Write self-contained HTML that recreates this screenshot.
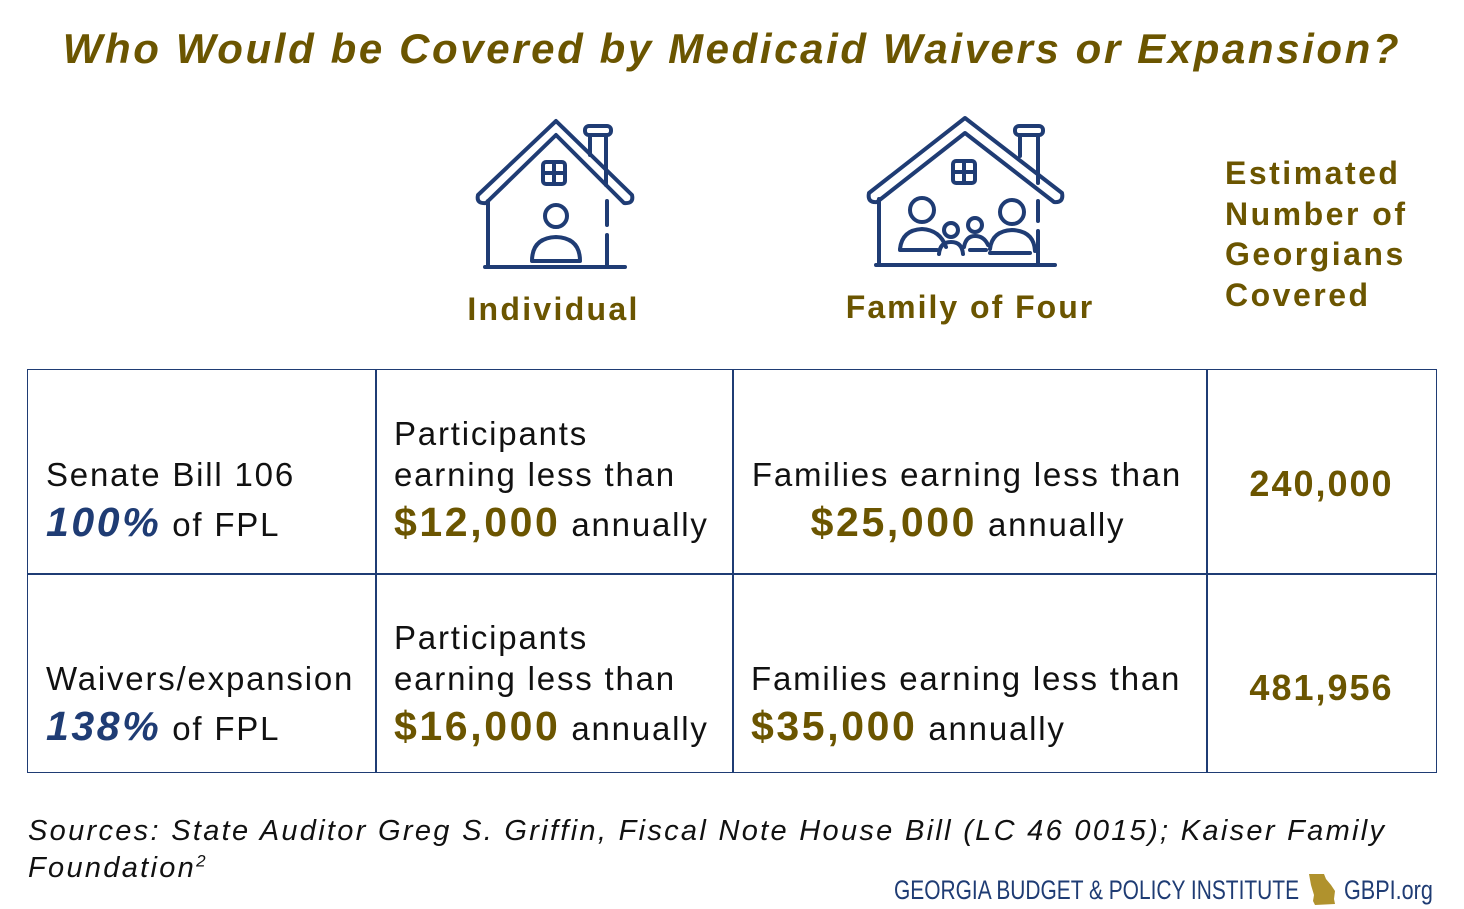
<!DOCTYPE html>
<html><head><meta charset="utf-8"><style>
body{margin:0;width:1464px;height:909px;background:#fff;position:relative;overflow:hidden;font-family:"Liberation Sans",sans-serif;}
.t{position:absolute;line-height:1;white-space:nowrap;}
.g{color:#6b5500;font-weight:bold;}
.b{color:#1f3c74;font-weight:bold;font-style:italic;}
.k{color:#111;font-size:33px;letter-spacing:1.8px;}
.big{font-size:41px;letter-spacing:2.6px;}
.ln{position:absolute;background:#1f3c74;}
</style></head><body>
<div class="t g" style="left:0;width:1464px;text-align:center;top:28px;font-size:42px;font-style:italic;letter-spacing:2.6px;">Who Would be Covered by Medicaid Waivers or Expansion?</div>

<svg style="position:absolute;left:470px;top:115px" width="170" height="160" viewBox="0 0 170 160" fill="none" stroke="#1f3c74" stroke-width="4" stroke-linecap="round" stroke-linejoin="round">
<path d="M86 6 L8 80 Q6 89 16 88 L86 20 L154 88 Q164 89 162 80 Z"/>
<path d="M120 40 L120 20 L136 20 L136 70"/><rect x="115" y="11" width="26" height="9" rx="4"/>
<path d="M18 86 L18 151 M137 86 L137 110 M137 120 L137 151 M15 152 L155 152"/>
<rect x="73" y="47" width="22" height="22" rx="3"/><path d="M84 47V69M73 58H95"/>
<circle cx="86" cy="101" r="11"/><path d="M62 146 Q62 123 86 122 Q110 123 110 146 Z"/>
</svg>
<svg style="position:absolute;left:862px;top:113px" width="210" height="160" viewBox="0 0 210 160" fill="none" stroke="#1f3c74" stroke-width="4" stroke-linecap="round" stroke-linejoin="round">
<path d="M103 5 L7 80 Q5 90 15 89 L103 20 L192 89 Q202 90 200 80 Z"/>
<path d="M158 43 L158 22 L176 22 L176 70"/><rect x="153" y="13" width="28" height="9" rx="4"/>
<path d="M17 86 L17 151 M176 88 L176 108 M176 118 L176 151 M14 152 L193 152"/>
<rect x="91" y="48" width="22" height="22" rx="3"/><path d="M102 48V70M91 59H113"/>
<circle cx="60" cy="97" r="12"/><path d="M38 136 Q40 117 60 116 Q78 117 84 134"/>
<circle cx="150" cy="99" r="12"/><path d="M128 136 Q130 118 150 117 Q172 118 173 138"/>
<circle cx="89" cy="117" r="7"/><path d="M77 141 Q78 129 89 129 Q100 129 101 141"/>
<circle cx="113" cy="112" r="7"/><path d="M102 134 Q104 123 113 123 Q122 123 126 132"/>
<path d="M38 137 H75 M108 137 H124 M128 140 H168"/>
</svg>

<div class="t g" style="left:375px;width:357px;text-align:center;top:293px;font-size:32px;letter-spacing:2.3px;">Individual</div>
<div class="t g" style="left:733px;width:474px;text-align:center;top:291px;font-size:32px;letter-spacing:2px;">Family of Four</div>
<div class="t g" style="left:1225px;top:153px;font-size:32px;line-height:40.6px;white-space:normal;width:230px;letter-spacing:2.5px;">Estimated Number of Georgians Covered</div>

<div style="position:absolute;left:27px;top:369px;width:1408px;height:402px;border:1.5px solid #1f3c74;"></div>
<div class="ln" style="left:375px;top:370px;width:1.5px;height:402px"></div>
<div class="ln" style="left:732px;top:370px;width:1.5px;height:402px"></div>
<div class="ln" style="left:1206px;top:370px;width:1.5px;height:402px"></div>
<div class="ln" style="left:27px;top:573px;width:1409px;height:1.5px"></div>

<div class="t k" style="left:46px;top:458px;">Senate Bill 106</div>
<div class="t k" style="left:46px;top:502px;"><span class="b big">100%</span> of FPL</div>
<div class="t k" style="left:394px;top:417px;">Participants</div>
<div class="t k" style="left:394px;top:458px;">earning less than</div>
<div class="t k" style="left:394px;top:502px;"><span class="g big">$12,000</span> annually</div>
<div class="t k" style="left:730px;width:474px;text-align:center;top:458px;">Families earning less than</div>
<div class="t k" style="left:731px;width:474px;text-align:center;top:502px;"><span class="g big">$25,000</span> annually</div>
<div class="t g" style="left:1207px;width:229px;text-align:center;top:466px;font-size:36px;letter-spacing:2px;">240,000</div>

<div class="t k" style="left:46px;top:662px;">Waivers/expansion</div>
<div class="t k" style="left:46px;top:706px;"><span class="b big">138%</span> of FPL</div>
<div class="t k" style="left:394px;top:621px;">Participants</div>
<div class="t k" style="left:394px;top:662px;">earning less than</div>
<div class="t k" style="left:394px;top:706px;"><span class="g big">$16,000</span> annually</div>
<div class="t k" style="left:751px;top:662px;">Families earning less than</div>
<div class="t k" style="left:751px;top:706px;"><span class="g big">$35,000</span> annually</div>
<div class="t g" style="left:1207px;width:229px;text-align:center;top:670px;font-size:36px;letter-spacing:2px;">481,956</div>

<div class="t" style="left:28px;top:813px;font-size:29px;font-style:italic;line-height:37px;white-space:normal;width:1400px;color:#111;letter-spacing:2.3px;">Sources: State Auditor Greg S. Griffin, Fiscal Note House Bill (LC 46 0015); Kaiser Family Foundation<sup style="font-size:17px;line-height:0">2</sup></div>

<div class="t" style="left:894px;top:877px;font-size:27px;color:#1f3c74;transform:scaleX(0.775);transform-origin:left top;">GEORGIA BUDGET &amp; POLICY INSTITUTE</div>
<svg style="position:absolute;left:1306px;top:873px" width="32" height="34" viewBox="0 0 32 34"><path d="M3 1 L18 1 L20 6 L25 12 L29 18 L28 26 L29 31 L9 32 L7 28 L8 22 L5 12 Z" fill="#b0922d"/></svg>
<div class="t" style="left:1344px;top:877px;font-size:27px;color:#1f3c74;transform:scaleX(0.8);transform-origin:left top;">GBPI.org</div>
</body></html>
